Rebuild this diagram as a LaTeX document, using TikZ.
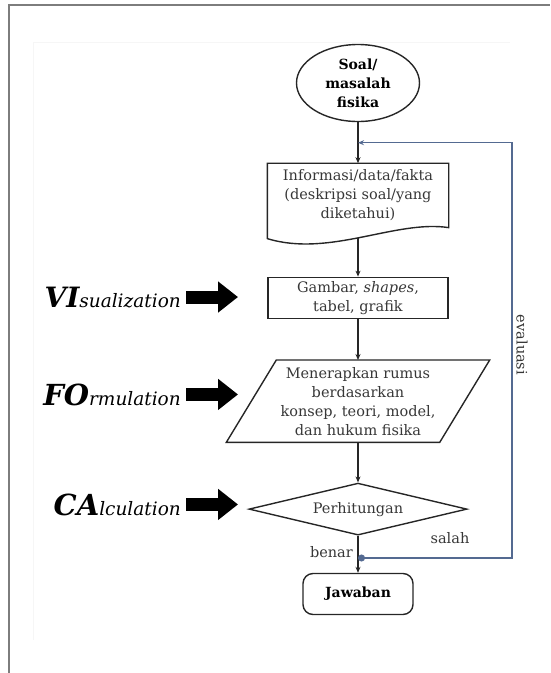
\documentclass[tikz,border=0pt]{standalone}
\usepackage{fontspec}
\setmainfont{DejaVu Serif}
\usetikzlibrary{arrows.meta, positioning, shapes.geometric, calc}
\definecolor{AbuBingkai}{RGB}{125,125,125}
\definecolor{AbuTipis}{RGB}{246,246,246}
\definecolor{AbuTeks}{RGB}{55,55,55}
\definecolor{BiruEvaluasi}{RGB}{84,106,145}

\begin{document}
\begin{tikzpicture}[
  x=1pt, y=-1pt,
  >={Stealth[length=6pt, width=5pt]},
  garis/.style={line width=1.4pt, draw=black!85},
  kotak/.style={garis, align=center, text=AbuTeks, inner sep=2pt,
    font=\fontsize{14.5}{19}\selectfont},
  tebal/.style={font=\fontsize{14}{19}\selectfont\bfseries, text=black},
  ket/.style={text=AbuTeks, inner sep=1pt, font=\fontsize{14.5}{17}\selectfont},
  langkah/.style={inner sep=0pt, anchor=base east},
  panahblok/.style={line width=13pt, black, -{Triangle[length=20pt, width=30pt]}},
  balik/.style={line width=1.1pt, draw=BiruEvaluasi,
    {Circle[length=7pt]}-{Stealth[length=6pt, width=5pt]}},
]
\useasboundingbox (0,0) rectangle (550,673);

% --- bingkai ---
\draw[draw=AbuBingkai, line width=2pt] (9,673) -- (9,5) -- (550,5);
\draw[draw=AbuTipis, line width=0.8pt] (33,640) -- (33,42) -- (510,42);

% --- alur utama ---
\node[kotak, tebal, ellipse, minimum width=123pt, minimum height=77pt] (soal) at (358,83) {Soal/\\masalah\\fisika};
\node[kotak, draw=none, minimum width=180pt, minimum height=63pt, below=41pt of soal] (info)
  {Informasi/data/fakta\\(deskripsi soal/yang\\diketahui)};
\draw[garis] (info.north west) -- (info.north east) -- (info.south east)
  .. controls +(-53,-8) and +(62,19) .. ([yshift=-11pt]info.south west) -- cycle;
\node[kotak, minimum width=180pt, minimum height=41pt, below=49pt of info] (gbr) {Gambar, \textit{shapes},\\tabel, grafik};
\node[kotak, draw=none, minimum width=212pt, minimum height=81pt, below=41pt of gbr] (rumus)
  {Menerapkan rumus\\berdasarkan\\konsep, teori, model,\\dan hukum fisika};
\draw[garis] ([xshift=25pt]rumus.north west) -- ([xshift=25pt]rumus.north east)
  -- ([xshift=-25pt]rumus.south east) -- ([xshift=-25pt]rumus.south west) -- cycle;
\node[kotak, diamond, shape aspect=4.2, minimum width=218pt, minimum height=52pt, inner sep=0pt,
  below=40pt of rumus] (hitung) {Perhitungan};
\node[kotak, tebal, rounded corners=10pt, minimum width=110pt, minimum height=41pt, below=37pt of hitung] (jwb) {Jawaban};

\draw[garis, ->] (soal) -- (info);
\draw[garis, ->] ([yshift=-10pt]info.south) -- (gbr);
\draw[garis, ->] (gbr) -- (rumus);
\draw[garis, ->] (rumus) -- (hitung);
\draw[garis, ->] (hitung) -- (jwb);

% --- umpan balik evaluasi ---
\coordinate (cabang) at ($(hitung.south)!0.6!(jwb.north)$);
\coordinate (masuk) at ($(soal.south)!0.5!(info.north)$);
\coordinate (tepi) at (512,0);
\draw[balik] (cabang) -- (cabang -| tepi) -- (masuk -| tepi) -- (masuk);
\node[ket] (salah) at (450,538) {salah};
\node[ket, anchor=east] (benar) at (354,552) {benar};
\node[ket, rotate=-90] (evaluasi) at (522,345) {evaluasi};

% --- label VIFOCA ---
\coordinate (ujung) at (238,0);
\node[langkah] (vis) at (181,307) {{\fontsize{28}{28}\selectfont\bfseries\itshape VI}{\fontsize{18.5}{18.5}\selectfont\itshape sualization}};
\node[langkah] (form) at (181,405) {{\fontsize{29}{29}\selectfont\bfseries\itshape FO}{\fontsize{18.5}{18.5}\selectfont\itshape rmulation}};
\node[langkah] (kalk) at (181,515) {{\fontsize{29}{29}\selectfont\bfseries\itshape CA}{\fontsize{18.5}{18.5}\selectfont\itshape lculation}};
\draw[panahblok] ([xshift=5pt]vis.east) -- (vis.east -| ujung);
\draw[panahblok] ([xshift=5pt]form.east) -- (form.east -| ujung);
\draw[panahblok] ([xshift=5pt]kalk.east) -- (kalk.east -| ujung);

\end{tikzpicture}
\end{document}
